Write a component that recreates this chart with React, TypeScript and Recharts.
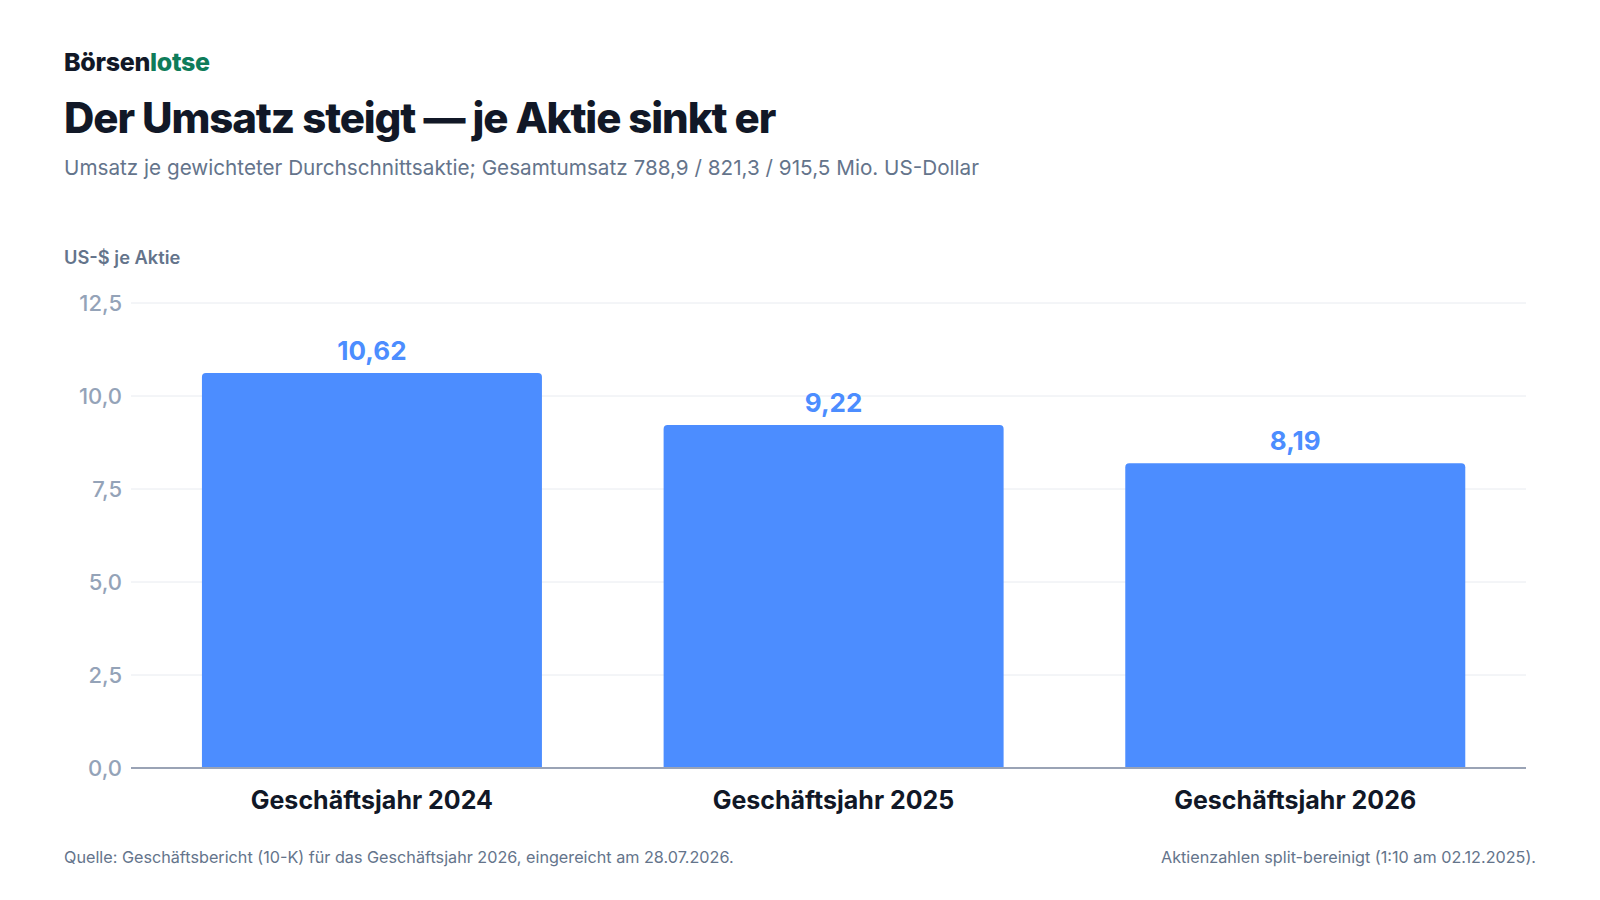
import { BarChart, Bar, XAxis, YAxis, CartesianGrid, LabelList } from 'recharts';

// Umsatz je gewichteter Durchschnittsaktie (US-$), split-bereinigt
const categories = ['Geschäftsjahr 2024', 'Geschäftsjahr 2025', 'Geschäftsjahr 2026'];
const revenuePerShare = [10.62, 9.22, 8.19];
const yTicks = [0, 2.5, 5, 7.5, 10, 12.5];

const data = categories.map((name, i) => ({ name, value: revenuePerShare[i] }));

const FONT = 'Inter, "Noto Sans", sans-serif';
const BAR = '#4c8dff';
const INK = '#111827';
const MUTED = '#64748b';

const de = (v: number, digits: number) => v.toFixed(digits).replace('.', ',');

function Text({
  top,
  size,
  weight = 400,
  color,
  children,
  left,
  right,
  spacing,
}: {
  top: number;
  size: number;
  weight?: number;
  color: string;
  children: React.ReactNode;
  left?: number;
  right?: number;
  spacing?: number;
}) {
  return (
    <div
      style={{
        position: 'absolute',
        top: top - size / 2,
        left,
        right,
        fontSize: size,
        lineHeight: `${size}px`,
        fontWeight: weight,
        color,
        letterSpacing: spacing,
        whiteSpace: 'nowrap',
      }}
    >
      {children}
    </div>
  );
}

export default function App() {
  return (
    <div
      style={{
        position: 'fixed',
        top: 0,
        left: 0,
        width: 1600,
        height: 900,
        background: '#fff',
        fontFamily: FONT,
      }}
    >
      <Text top={62} left={64} size={25} weight={800} color={INK} spacing={-0.3}>
        Börsen<span style={{ color: '#0e7c5a' }}>lotse</span>
      </Text>
      <Text top={118} left={64} size={42} weight={800} color={INK} spacing={-1.1}>
        Der Umsatz steigt — je Aktie sinkt er
      </Text>
      <Text top={168} left={64} size={20.7} color={MUTED}>
        Umsatz je gewichteter Durchschnittsaktie; Gesamtumsatz 788,9 / 821,3 / 915,5 Mio. US-Dollar
      </Text>
      <Text top={257} left={64} size={18.3} weight={600} color={MUTED}>
        US-$ je Aktie
      </Text>

      <div style={{ position: 'absolute', top: 0, left: 0 }}>
        <BarChart
          width={1600}
          height={900}
          data={data}
          margin={{ top: 303, right: 74, bottom: 0, left: 0 }}
          barCategoryGap="13.2%"
        >
          <CartesianGrid vertical={false} stroke="#e8ebf0" strokeWidth={1} />
          <XAxis
            dataKey="name"
            padding={{ left: 10, right: 0 }}
            axisLine={{ stroke: '#9aa3b5', strokeWidth: 2 }}
            tickLine={false}
            tickSize={0}
            tickMargin={23}
            tick={{ fill: INK, fontSize: 25, fontWeight: 700, fontFamily: FONT }}
            height={132}
          />
          <YAxis
            domain={[0, 12.5]}
            ticks={yTicks}
            width={131}
            axisLine={false}
            tickLine={false}
            tickSize={0}
            tickMargin={9}
            tickFormatter={(v: number) => de(v, 1)}
            tick={{ fill: '#94a3b8', fontSize: 22, fontWeight: 500, fontFamily: FONT }}
          />
          <Bar dataKey="value" fill={BAR} radius={[4, 4, 0, 0]} isAnimationActive={false}>
            <LabelList
              dataKey="value"
              position="top"
              offset={13}
              formatter={(v: number) => de(v, 2)}
              style={{ fill: BAR, fontSize: 26, fontWeight: 700, fontFamily: FONT }}
            />
          </Bar>
        </BarChart>
      </div>

      <Text top={857} left={64} size={16.2} color={MUTED}>
        Quelle: Geschäftsbericht (10-K) für das Geschäftsjahr 2026, eingereicht am 28.07.2026.
      </Text>
      <Text top={857} right={64} size={16.2} color={MUTED}>
        Aktienzahlen split-bereinigt (1:10 am 02.12.2025).
      </Text>
    </div>
  );
}
